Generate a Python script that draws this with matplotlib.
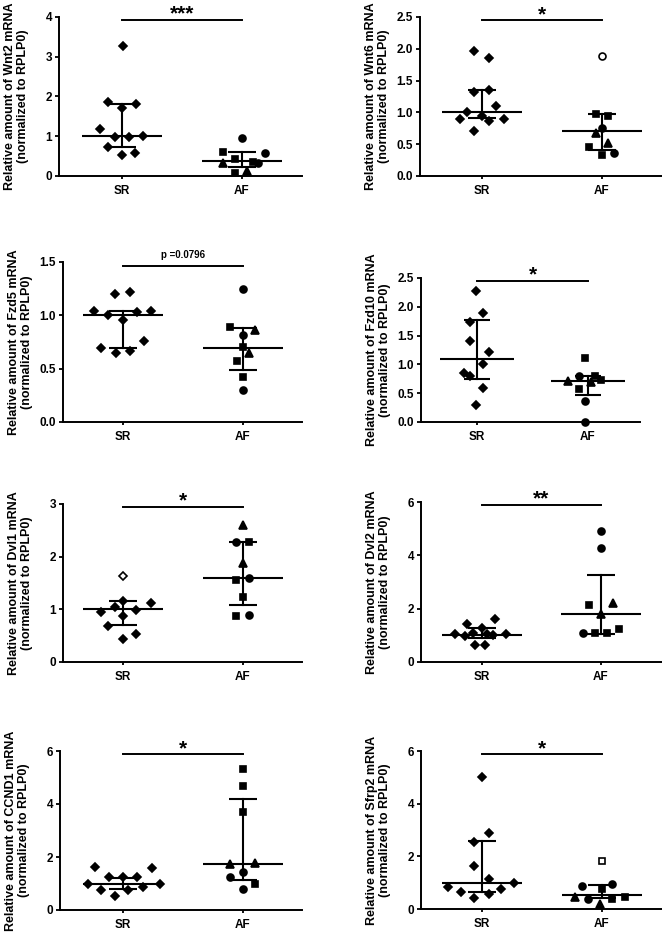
import matplotlib
matplotlib.use('Agg')
from matplotlib import pyplot as plt
import numpy as np

plt.rcParams['font.family'] = ['Liberation Sans', 'DejaVu Sans']
plt.rcParams['font.weight'] = 'bold'

groups = ['SR', 'AF']

# marker codes: d diamond, s square, o circle, t triangle; upper case = open marker
genes = ['Wnt2', 'Wnt6', 'Fzd5', 'Fzd10', 'Dvl1', 'Dvl2', 'CCND1', 'Sfrp2']
y_tops = [4, 2.5, 1.5, 2.5, 3, 6, 6, 6]
y_steps = [1, 0.5, 0.5, 0.5, 1, 2, 2, 2]
signif = ['***', '*', 'p =0.0796', '*', '*', '**', '*', '*']
bracket_y = [3.93, 2.45, 1.46, 2.45, 2.95, 5.9, 5.88, 5.88]

wnt2_sr = [3.27, 1.85, 1.81, 1.70, 1.18, 0.99, 0.97, 1.00, 0.74, 0.53, 0.57]
wnt2_sr_dx = [0.01, -0.12, 0.12, 0.0, -0.18, -0.06, 0.06, 0.175, -0.12, 0.0, 0.11]
wnt2_af = [0.95, 0.61, 0.585, 0.42, 0.32, 0.36, 0.32, 0.13, 0.08]
wnt2_af_dx = [0.0, -0.156, 0.19, -0.058, -0.156, 0.094, 0.136, 0.044, -0.058]
wnt2_af_mk = 'osostsots'
wnt2_stats = [(1.0, 0.74, 1.81), (0.38, 0.22, 0.6)]

wnt6_sr = [1.97, 1.85, 1.32, 1.36, 1.10, 1.01, 0.89, 0.94, 0.87, 0.89, 0.70]
wnt6_sr_dx = [-0.064, 0.061, -0.064, 0.061, 0.117, -0.125, -0.186, 0.0, 0.061, 0.18, -0.064]
wnt6_af = [1.88, 0.97, 0.95, 0.76, 0.68, 0.52, 0.46, 0.33, 0.36]
wnt6_af_dx = [0.0, -0.05, 0.047, 0.0, -0.05, 0.047, -0.105, 0.0, 0.097]
wnt6_af_mk = 'Ossottsso'
wnt6_stats = [(1.0, 0.91, 1.36), (0.70, 0.41, 0.97)]

fzd5_sr = [1.20, 1.22, 1.04, 1.045, 1.0, 1.03, 0.96, 0.76, 0.69, 0.65, 0.67]
fzd5_sr_dx = [-0.064, 0.056, -0.24, 0.236, -0.125, 0.117, 0.0, 0.175, -0.186, -0.06, 0.056]
fzd5_af = [1.25, 0.89, 0.86, 0.82, 0.70, 0.65, 0.57, 0.42, 0.30]
fzd5_af_dx = [0.0, -0.105, 0.103, 0.0, 0.0, 0.047, -0.05, 0.0, 0.0]
fzd5_af_mk = 'ostostsso'
fzd5_stats = [(1.0, 0.69, 1.04), (0.69, 0.49, 0.88)]

fzd10_sr = [2.28, 1.90, 1.73, 1.41, 1.21, 1.00, 0.85, 0.79, 0.59, 0.30]
fzd10_sr_dx = [-0.01, 0.05, -0.06, -0.06, 0.11, 0.05, -0.12, -0.06, 0.05, -0.01]
fzd10_af = [1.11, 0.79, 0.79, 0.72, 0.69, 0.73, 0.58, 0.36, 0.0]
fzd10_af_dx = [-0.03, -0.08, 0.066, -0.18, 0.024, 0.12, -0.08, -0.03, -0.03]
fzd10_af_mk = 'sosttssoo'
fzd10_stats = [(1.10, 0.74, 1.77), (0.72, 0.47, 0.79)]

dvl1_sr = [1.64, 1.16, 1.12, 1.05, 0.94, 0.99, 0.87, 0.69, 0.54, 0.44]
dvl1_sr_dx = [0.0, 0.0, 0.236, -0.07, -0.186, 0.11, 0.0, -0.125, 0.11, 0.0]
dvl1_sr_mk = 'Dddddddddd'
dvl1_af = [2.60, 2.27, 2.27, 1.88, 1.56, 1.59, 1.24, 0.88, 0.90]
dvl1_af_dx = [0.0, -0.055, 0.047, 0.0, -0.055, 0.047, 0.0, -0.055, 0.047]
dvl1_af_mk = 'tostsosso'
dvl1_stats = [(1.0, 0.71, 1.16), (1.60, 1.08, 2.28)]

dvl2_sr = [1.42, 1.60, 1.29, 1.04, 0.97, 1.08, 1.04, 1.0, 1.04, 0.63, 0.63]
dvl2_sr_dx = [-0.128, 0.108, 0.0, -0.225, -0.14, -0.075, 0.04, 0.09, 0.205, -0.058, 0.025]
dvl2_af = [4.93, 4.27, 2.14, 2.2, 1.79, 1.09, 1.07, 1.07, 1.22]
dvl2_af_dx = [0.0, 0.0, -0.103, 0.1, 0.0, -0.15, -0.047, 0.05, 0.153]
dvl2_af_mk = 'oosttosss'
dvl2_stats = [(1.0, 0.9, 1.27), (1.8, 1.05, 3.25)]

ccnd1_sr = [1.61, 1.57, 1.25, 1.23, 1.25, 0.98, 0.98, 0.75, 0.75, 0.88, 0.54]
ccnd1_sr_dx = [-0.233, 0.24, -0.12, 0.0, 0.12, -0.29, 0.31, -0.18, 0.045, 0.17, -0.067]
ccnd1_af = [5.31, 4.69, 3.68, 1.73, 1.79, 1.23, 1.44, 0.80, 0.98]
ccnd1_af_dx = [0.0, 0.0, 0.0, -0.105, 0.103, -0.105, 0.0, 0.0, 0.103]
ccnd1_af_mk = 'sssttooos'
ccnd1_stats = [(1.0, 0.8, 1.2), (1.75, 1.12, 4.2)]

sfrp2_sr = [5.02, 2.87, 2.56, 1.64, 1.13, 0.83, 0.98, 0.63, 0.42, 0.58, 0.76]
sfrp2_sr_dx = [0.0, 0.06, -0.064, -0.064, 0.06, -0.28, 0.27, -0.175, -0.064, 0.06, 0.16]
sfrp2_af = [1.83, 0.89, 0.95, 0.77, 0.44, 0.39, 0.39, 0.44, 0.19]
sfrp2_af_dx = [0.0, -0.17, 0.08, 0.0, -0.225, -0.115, 0.08, 0.19, -0.017]
sfrp2_af_mk = 'Soostosst'
sfrp2_stats = [(0.99, 0.65, 2.6), (0.55, 0.4, 0.9)]

sr_vals = [wnt2_sr, wnt6_sr, fzd5_sr, fzd10_sr, dvl1_sr, dvl2_sr, ccnd1_sr, sfrp2_sr]
sr_dxs = [wnt2_sr_dx, wnt6_sr_dx, fzd5_sr_dx, fzd10_sr_dx, dvl1_sr_dx, dvl2_sr_dx, ccnd1_sr_dx, sfrp2_sr_dx]
af_vals = [wnt2_af, wnt6_af, fzd5_af, fzd10_af, dvl1_af, dvl2_af, ccnd1_af, sfrp2_af]
af_dxs = [wnt2_af_dx, wnt6_af_dx, fzd5_af_dx, fzd10_af_dx, dvl1_af_dx, dvl2_af_dx, ccnd1_af_dx, sfrp2_af_dx]
af_mks = [wnt2_af_mk, wnt6_af_mk, fzd5_af_mk, fzd10_af_mk, dvl1_af_mk, dvl2_af_mk, ccnd1_af_mk, sfrp2_af_mk]
stats = [wnt2_stats, wnt6_stats, fzd5_stats, fzd10_stats, dvl1_stats, dvl2_stats, ccnd1_stats, sfrp2_stats]

# layout in pixels: left, top, right, bottom of axes, x pixel of SR, x pixel of AF
boxes = [
    (59, 17, 302, 176, 122, 242),
    (420, 17, 662, 176, 482, 602),
    (63, 262, 302, 422, 123, 243),
    (421, 278, 640, 422, 477, 588),
    (63, 504, 302, 662, 123, 243),
    (421, 502, 662, 662, 482, 601),
    (60, 751, 302, 910, 123, 243),
    (421, 751, 662, 909, 482, 602),
]

W, H = 662, 936
mk_map = {'d': ('D', 4.2), 's': ('s', 4.8), 'o': ('o', 5.0), 't': ('^', 5.2)}

fig = plt.figure(figsize=(W / 100, H / 100), dpi=100)


def draw_points(ax, xc, vals, dxs, codes):
    for v, dx, c in zip(vals, dxs, codes):
        m, ms = mk_map[c.lower()]
        face = 'white' if c.isupper() else 'black'
        ax.plot(xc + dx, v, marker=m, ms=ms, mfc=face, mec='black', mew=1.2,
                ls='none', clip_on=False, zorder=3)


for i, gene in enumerate(genes):
    L, T, R, B, xs, xa = boxes[i]
    ax = fig.add_axes([L / W, 1 - B / H, (R - L) / W, (B - T) / H])
    unit = xa - xs
    ax.set_xlim(1 - (xs - L) / unit, 2 + (R - xa) / unit)
    ax.set_ylim(0, y_tops[i])
    for s in ['top', 'right']:
        ax.spines[s].set_visible(False)
    for s in ['left', 'bottom']:
        ax.spines[s].set_linewidth(1.4)

    sr_codes = dvl1_sr_mk if gene == 'Dvl1' else 'd' * len(sr_vals[i])
    draw_points(ax, 1, sr_vals[i], sr_dxs[i], sr_codes)
    draw_points(ax, 2, af_vals[i], af_dxs[i], af_mks[i])

    for xc, (med, lo, hi) in zip([1, 2], stats[i]):
        ax.plot([xc - 0.335, xc + 0.335], [med, med], color='black', lw=1.5, zorder=4, solid_capstyle='butt')
        ax.plot([xc, xc], [lo, hi], color='black', lw=1.5, zorder=4)
        for yv in (lo, hi):
            ax.plot([xc - 0.115, xc + 0.115], [yv, yv], color='black', lw=1.5, zorder=4, solid_capstyle='butt')

    ax.plot([1, 2], [bracket_y[i]] * 2, color='black', lw=1.4, clip_on=False)
    if signif[i].startswith('p'):
        ax.annotate(signif[i], xy=(1.5, bracket_y[i]), xytext=(0, 6), textcoords='offset points',
                    ha='center', va='baseline', fontsize=7, fontweight='bold', annotation_clip=False)
    else:
        ax.annotate(signif[i], xy=(1.5, bracket_y[i]), xytext=(0, 0), textcoords='offset points',
                    ha='center', va='baseline', fontsize=15, fontweight='bold', annotation_clip=False)

    ax.set_xticks([1, 2])
    ax.set_xticklabels(groups)
    ax.set_yticks(np.arange(0, y_tops[i] + 1e-9, y_steps[i]))
    if y_steps[i] < 1:
        ax.yaxis.set_major_formatter(matplotlib.ticker.FormatStrFormatter('%.1f'))
    ax.tick_params(axis='both', labelsize=8.5, width=1.3, length=3, pad=2)
    ax.tick_params(axis='x', length=2.5, pad=4)
    for lab in ax.get_xticklabels() + ax.get_yticklabels():
        lab.set_fontweight('bold')

    ax.set_ylabel('Relative amount of %s mRNA\n(normalized to RPLP0)' % gene,
                  fontsize=9, fontweight='bold', linespacing=1.1)
    ax.yaxis.set_label_coords(-30 / (R - L), 0.5)

fig.savefig('out.png', dpi=100)
